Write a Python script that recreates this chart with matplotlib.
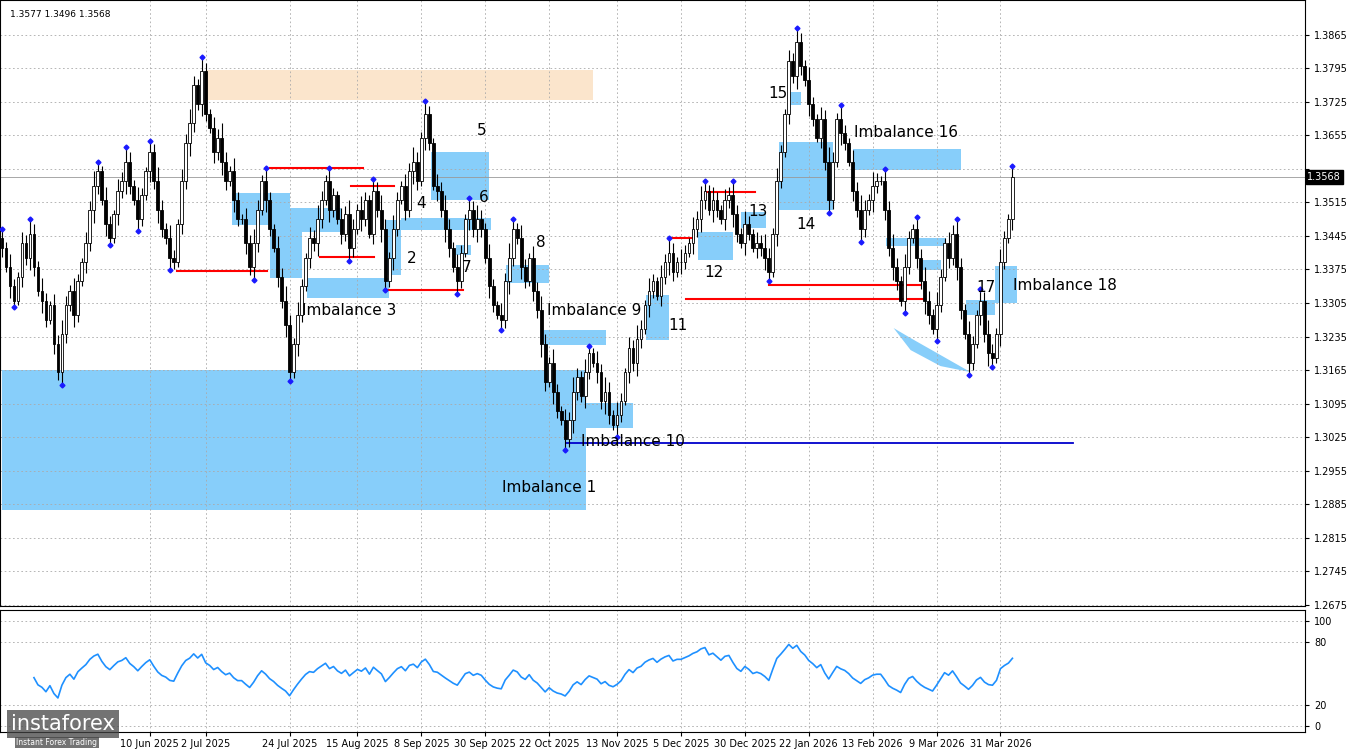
import numpy as np, pandas as pd
import matplotlib
matplotlib.use("Agg")
import matplotlib.pyplot as plt
from matplotlib.patches import Rectangle, Polygon

closes = [1.342,1.338,1.334,1.331,1.336,1.343,1.340,1.345,1.338,1.333,
1.331,1.327,1.330,1.322,1.316,1.324,1.330,1.333,1.328,1.335,
1.339,1.343,1.350,1.355,1.358,1.352,1.347,1.344,1.349,1.354,
1.356,1.360,1.355,1.352,1.348,1.353,1.358,1.362,1.356,1.350,
1.346,1.344,1.340,1.339,1.347,1.356,1.364,1.368,1.376,1.372,
1.379,1.370,1.367,1.362,1.365,1.360,1.356,1.358,1.352,1.348,
1.348,1.343,1.338,1.343,1.350,1.356,1.352,1.346,1.342,1.336,
1.331,1.326,1.316,1.322,1.328,1.334,1.340,1.344,1.343,1.348,
1.352,1.356,1.350,1.353,1.348,1.345,1.349,1.342,1.346,1.350,
1.348,1.352,1.345,1.354,1.350,1.346,1.335,1.340,1.346,1.352,
1.355,1.350,1.358,1.360,1.356,1.365,1.370,1.364,1.355,1.354,
1.350,1.346,1.342,1.338,1.335,1.341,1.348,1.350,1.346,1.348,
1.346,1.340,1.334,1.330,1.328,1.327,1.335,1.340,1.346,1.344,
1.338,1.335,1.340,1.333,1.329,1.322,1.314,1.318,1.312,1.308,
1.306,1.302,1.306,1.312,1.315,1.311,1.316,1.320,1.318,1.316,
1.310,1.312,1.307,1.305,1.307,1.310,1.316,1.321,1.318,1.323,
1.325,1.330,1.333,1.335,1.332,1.336,1.339,1.341,1.337,1.339,
1.339,1.341,1.343,1.346,1.348,1.352,1.354,1.350,1.352,1.350,
1.348,1.352,1.353,1.349,1.345,1.343,1.347,1.345,1.342,1.343,
1.342,1.340,1.337,1.345,1.356,1.362,1.370,1.381,1.378,1.385,
1.380,1.377,1.372,1.369,1.365,1.369,1.360,1.352,1.360,1.369,
1.366,1.364,1.360,1.354,1.350,1.346,1.350,1.352,1.355,1.356,
1.356,1.350,1.342,1.338,1.335,1.331,1.338,1.344,1.346,1.340,
1.335,1.331,1.328,1.325,1.330,1.336,1.343,1.340,1.345,1.338,
1.329,1.324,1.318,1.322,1.328,1.331,1.324,1.320,1.319,1.324,
1.339,1.344,1.348,1.3568]
wick = [0.0020,0.0012,0.0028,0.0016,0.0010,0.0024,0.0018,0.0030]

date_labels = ["10 Jun 2025","2 Jul 2025","24 Jul 2025","15 Aug 2025","8 Sep 2025","30 Sep 2025",
               "22 Oct 2025","13 Nov 2025","5 Dec 2025","30 Dec 2025","22 Jan 2026","13 Feb 2026",
               "9 Mar 2026","31 Mar 2026"]
date_pos = [37,51,72,89,105,121,137,154,170,186,202,218,234,250]

price_ticks = [1.2675,1.2745,1.2815,1.2885,1.2955,1.3025,1.3095,1.3165,1.3235,1.3305,1.3375,
               1.3445,1.3515,1.3585,1.3655,1.3725,1.3795,1.3865]

n = len(closes)
c = np.array(closes)
o = np.r_[c[0]+0.002, c[:-1]]
w = np.array([wick[i % len(wick)] for i in range(n)])
h = np.maximum(o, c) + w
l = np.minimum(o, c) - w*0.9

W, H = 1350, 750
fig = plt.figure(figsize=(W/100, H/100), dpi=100)
ax = fig.add_axes([0.0, 1-606/H, 1305/W, 606/H])
ax2 = fig.add_axes([0.0, 1-732/H, 1305/W, 122/H])
X0, X1 = -0.5, 1305/4
ylo, yhi = 1.2672, 1.3938

P = lambda y: 1.3865 - (y-35)*0.000209
Q = lambda x: x/4.0
blue = "#87cefa"

def box(x0, x1, y0, y1, color=blue, z=1):
    ax.add_patch(Rectangle((Q(x0), P(y1)), Q(x1)-Q(x0), P(y0)-P(y1), color=color, lw=0, zorder=z))

box(0,585,370,510)
box(205,592,70,100,"#fbe5cc")
for b in [(305,388,278,298),(385,400,220,275),(430,488,152,200),(455,470,245,255),(505,548,265,283),
          (543,605,330,345),(585,632,403,428),(645,668,295,340),(697,732,232,260),(740,765,212,228),
          (778,832,142,210),(787,800,92,105),(852,960,149,170),(885,945,238,246),(920,940,260,270),
          (965,995,300,315),(995,1017,266,303),(230,288,193,225),(268,300,225,278),(288,340,208,232),
          (400,490,218,230)]:
    box(*b)
ax.add_patch(Polygon([(Q(893),P(328)),(Q(910),P(338)),(Q(970),P(372)),(Q(940),P(366)),(Q(910),P(350))],
                     color=blue, lw=0, zorder=1))

for (x0,x1,y) in [(268,362,168),(175,265,271),(318,373,257),(385,462,290),(350,393,186),
                  (668,692,238),(705,754,192),(768,920,285),(685,922,299)]:
    ax.plot([Q(x0),Q(x1)],[P(y),P(y)], color="red", lw=1.5, zorder=3)
ax.plot([Q(565),Q(1073)],[P(443),P(443)], color="#0000cc", lw=1.3, zorder=3)

x = np.arange(n)
ax.vlines(x, l, h, color="black", lw=0.8, zorder=4)
up = c >= o
ax.bar(x[up], (c-o)[up], bottom=o[up], width=0.7, color="white", edgecolor="black", lw=0.6, zorder=5)
ax.bar(x[~up], (o-c)[~up], bottom=c[~up], width=0.7, color="black", edgecolor="black", lw=0.6, zorder=5)
for i in range(n):
    s = slice(max(0,i-4), i+5)
    if h[i] == h[s].max():
        ax.plot(i, h[i], "D", color="#1a1aff", ms=2.5, zorder=6)
    if l[i] == l[s].min():
        ax.plot(i, l[i], "D", color="#1a1aff", ms=2.5, zorder=6)

labels = [("Imbalance 1",548,487),("Imbalance 3",348,310),("2",410,258),("4",420,203),("5",480,131),
          ("6",482,197),("7",465,267),("8",540,242),("Imbalance 9",593,310),("Imbalance 10",632,441),
          ("11",677,325),("12",713,272),("13",757,211),("14",805,224),("15",777,94),
          ("Imbalance 16",905,133),("17",985,287),("Imbalance 18",1065,285)]
for t,xx,yy in labels:
    ax.text(Q(xx), P(yy), t, fontsize=11, ha="center", va="center", zorder=7)

ax.axhline(1.3568, color="#999999", lw=0.6, zorder=2)
ax.text(X1+0.6, 1.3568, "1.3568", fontsize=7, color="white", va="center",
        bbox=dict(facecolor="black", edgecolor="black", pad=1.2), zorder=8, clip_on=False)
ax.text(2, yhi-0.002, "1.3577 1.3496 1.3568", fontsize=6.5, va="top")

for a in (ax, ax2):
    a.set_xlim(X0, X1)
    a.yaxis.tick_right()
    a.tick_params(labelsize=7, length=3)
    a.grid(True, color="#aaaaaa", ls=(0,(2,3)), lw=0.6)
    a.set_xticks(date_pos)
ax.set_ylim(ylo, yhi)
ax.set_yticks(price_ticks)
ax.set_yticklabels([f"{t:.4f}" if t != 1.3585 else "" for t in price_ticks])
ax.set_xticklabels([])
ax.tick_params(axis="x", length=0)

# RSI
d = np.diff(c, prepend=c[0])
g = pd.Series(np.clip(d,0,None)).ewm(alpha=1/14, adjust=False).mean()
ls_ = pd.Series(np.clip(-d,0,None)).ewm(alpha=1/14, adjust=False).mean()
rsi = 100 - 100/(1 + g/(ls_+1e-9))
ax2.plot(x[8:], rsi[8:], color="#1e90ff", lw=1.2)
ax2.set_ylim(-6, 110)
ax2.set_yticks([0,20,80,100])
ax2.set_xticklabels(date_labels, fontsize=7)
ax2.tick_params(axis="x", length=3, pad=2)

fig.text(0.008, 0.035, "instaforex", fontsize=15, color="white", va="center",
         bbox=dict(facecolor="#444444", alpha=0.75, edgecolor="none", pad=3))
fig.text(0.012, 0.01, "Instant Forex Trading", fontsize=5.5, color="white", va="center",
         bbox=dict(facecolor="#444444", alpha=0.75, edgecolor="none", pad=1))
fig.savefig("out.png", dpi=100)
